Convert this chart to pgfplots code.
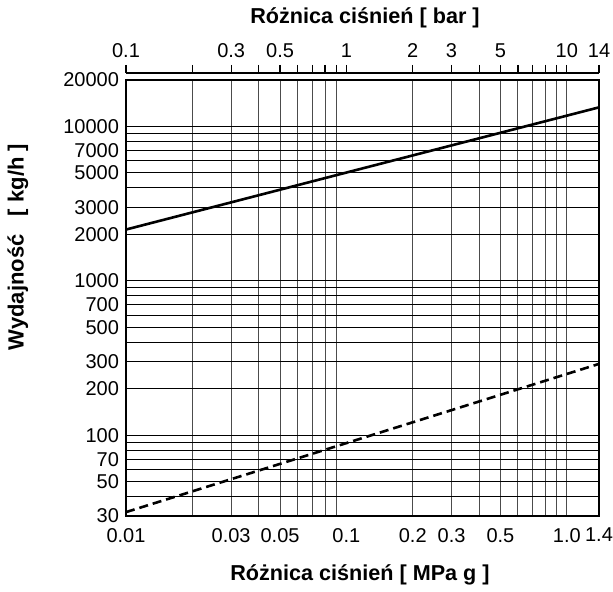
\documentclass[border=0pt]{standalone}
\usepackage{pgfplots}
\pgfplotsset{compat=1.18}
\usepackage{fontspec}
\setmainfont{Liberation Sans}
\begin{document}
\fontsize{10}{12}\selectfont
\begin{tikzpicture}
\path[use as bounding box] (-63pt,-37.5pt) rectangle (243.5pt,258pt);
% main axis: MPa g (bottom) and kg/h
\begin{axis}[
  at={(0,0)}, anchor=south west,
  scale only axis, width=236.5pt, height=218pt,
  xmode=log, ymode=log,
  xmin=0.01, xmax=1.4, ymin=30, ymax=20000,
  /pgf/number format/assume math mode=true,
  xtick={0.01,0.03,0.05,0.1,0.2,0.3,0.5,1,1.4},
  xticklabels={0.01,0.03,0.05,0.1,0.2,0.3,0.5,1.0,1.4},
  ytick={30,50,70,100,200,300,500,700,1000,2000,3000,5000,7000,10000,20000},
  yticklabels={30,50,70,100,200,300,500,700,1000,2000,3000,5000,7000,10000,20000},
  minor xtick={0.02,0.03,0.04,0.05,0.06,0.07,0.08,0.09,0.2,0.3,0.4,0.5,0.6,0.7,0.8,0.9,1},
  minor ytick={40,50,60,70,80,90,100,200,300,400,500,600,700,800,900,1000,2000,3000,4000,5000,6000,7000,8000,9000,10000},
  major tick length=0pt, minor tick length=0pt,
  xminorgrids=true, yminorgrids=true,
  xmajorgrids=false, ymajorgrids=false,
  minor x grid style={black!70, line width=0.5pt},
  minor y grid style={black, line width=0.5pt},
  axis line style={black, line width=0.6pt},
  tick label style={font=\fontsize{10}{12}\selectfont},
  xticklabel style={yshift=-2.5pt},
]
\addplot[black, line width=1.3pt] coordinates {(0.01,2150) (0.1,5030) (1.4,13300)};
\addplot[black, line width=1.3pt, dash pattern=on 4.5pt off 2.5pt] coordinates {(0.01,31.8) (0.1,89) (1.4,290)};
\end{axis}
% top axis: bar
\begin{axis}[
  at={(0,3.5pt)}, anchor=south west,
  scale only axis, width=236.5pt, height=218pt,
  xmode=log, xmin=0.1, xmax=14, ymin=0, ymax=1,
  /pgf/number format/assume math mode=true,
  axis x line*=top, axis y line=none,
  x axis line style={-, line width=0.6pt},
  xtick={0.1,0.2,0.3,0.4,0.5,0.6,0.7,0.8,0.9,1,2,3,4,5,6,7,8,9,10,14},
  xticklabels={0.1,,0.3,,0.5,,,,,1,2,3,,5,,,,,10,14},
  minor xtick={},
  xtick align=outside, major tick length=4pt,
  tick style={black, line width=0.6pt},
  tick label style={font=\fontsize{10}{12}\selectfont},
]
\end{axis}
\node[font=\bfseries\fontsize{10.8}{12}\selectfont] at (119.5pt,249pt) {Różnica ciśnień [ bar ]};
\node[font=\bfseries\fontsize{10.8}{12}\selectfont] at (117pt,-29.5pt) {Różnica ciśnień [ MPa g ]};
\node[font=\bfseries\fontsize{11}{12}\selectfont, rotate=90] at (-54pt,134.5pt) {Wydajność\ \ \ [ kg/h ]};
\end{tikzpicture}
\end{document}
